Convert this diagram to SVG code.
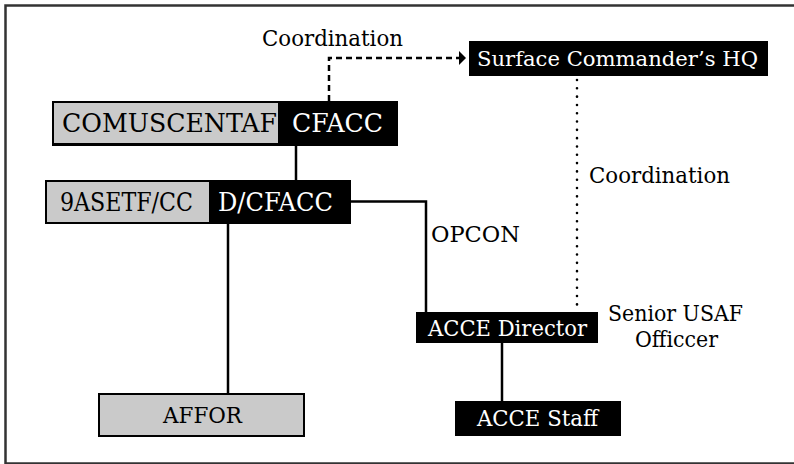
<svg xmlns="http://www.w3.org/2000/svg" width="794" height="464" viewBox="0 0 794 464">
<defs>
<style>
.big{font-size:26px}
.mid{font-size:23px}
.sm{font-size:22px}
.w{fill:#ffffff}
.k{fill:#000000}
.gray{fill:#cacaca}
.blk{fill:#000000}
.line{stroke:#000;stroke-width:2.5;fill:none}
</style>
</defs>
<rect x="5.5" y="5.5" width="820" height="458" fill="#fff" stroke="#333" stroke-width="2.5"/>

<g id="connectors">
<line class="line" x1="296" y1="146" x2="296" y2="180"/>
<path class="line" d="M329,101 V58 H459" stroke-dasharray="6 4"/>
<polygon points="459,51 466,58 459,65" fill="#000"/>
<line x1="577" y1="80" x2="577" y2="305" stroke="#000" stroke-width="2.6" stroke-linecap="round" stroke-dasharray="0.01 8.3"/>
<path class="line" d="M351,201.5 H426 V312"/>
<line class="line" x1="502" y1="343" x2="502" y2="401"/>
<line class="line" x1="228" y1="224" x2="228" y2="393"/>
</g>

<g font-family="DejaVu Serif, serif">
<g id="lbl-coord-top"><text class="sm k" x="262" y="46" textLength="141" lengthAdjust="spacingAndGlyphs">Coordination</text></g>
<g id="lbl-coord-right"><text class="sm k" x="589" y="183" textLength="141" lengthAdjust="spacingAndGlyphs">Coordination</text></g>
<g id="lbl-opcon"><text class="mid k" x="431" y="242" textLength="89" lengthAdjust="spacingAndGlyphs">OPCON</text></g>
<g id="lbl-senior">
<text class="sm k" x="608" y="321" textLength="135" lengthAdjust="spacingAndGlyphs">Senior USAF</text>
<text class="sm k" x="635" y="347" textLength="83" lengthAdjust="spacingAndGlyphs">Officcer</text>
</g>

<g id="node-cfacc">
<rect class="blk" x="52" y="101" width="346" height="45"/>
<rect class="gray" x="54" y="103" width="224" height="40"/>
<text class="big k" x="62" y="132" textLength="215" lengthAdjust="spacingAndGlyphs">COMUSCENTAF</text>
<text class="big w" x="292" y="132" textLength="91" lengthAdjust="spacingAndGlyphs">CFACC</text>
</g>

<g id="node-dcfacc">
<rect class="blk" x="45" y="180" width="306" height="44"/>
<rect class="gray" x="47" y="182" width="162" height="40"/>
<text class="big k" x="60" y="211" textLength="133" lengthAdjust="spacingAndGlyphs">9ASETF/CC</text>
<text class="big w" x="218" y="211" textLength="115" lengthAdjust="spacingAndGlyphs">D/CFACC</text>
</g>

<g id="node-surface">
<rect class="blk" x="469" y="41" width="299" height="35"/>
<text class="w" font-size="21" x="477" y="66" textLength="281" lengthAdjust="spacingAndGlyphs">Surface Commander’s HQ</text>
</g>

<g id="node-acce-director">
<rect class="blk" x="416" y="312" width="182" height="31"/>
<text class="sm w" x="428" y="336" textLength="159" lengthAdjust="spacingAndGlyphs">ACCE Director</text>
</g>

<g id="node-acce-staff">
<rect class="blk" x="455" y="401" width="166" height="35"/>
<text class="sm w" x="477" y="426" textLength="121" lengthAdjust="spacingAndGlyphs">ACCE Staff</text>
</g>

<g id="node-affor">
<rect class="blk" x="98" y="393" width="207" height="44"/>
<rect class="gray" x="100" y="395" width="203" height="40"/>
<text class="mid k" x="163" y="423" textLength="79" lengthAdjust="spacingAndGlyphs">AFFOR</text>
</g>
</g>
</svg>
